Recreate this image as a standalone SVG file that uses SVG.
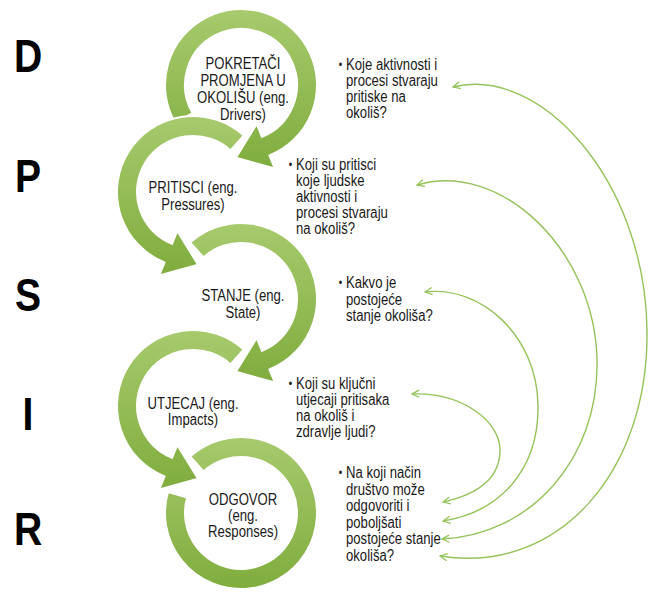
<svg xmlns="http://www.w3.org/2000/svg" width="651" height="592" viewBox="0 0 651 592">
<style>
.ring{fill:url(#g);stroke:#fff;stroke-width:2;stroke-linejoin:miter}
.lbl{font-family:"Liberation Sans",Arial,sans-serif;font-size:16px;fill:#1a1a1a}
.bul{font-size:12px}
.big{font-family:"Liberation Sans",Arial,sans-serif;font-size:46px;font-weight:bold;fill:#000}
.con{fill:none;stroke:#95c35a;stroke-width:1.4;marker-start:url(#ah);marker-end:url(#ah)}
</style>
<defs>
<linearGradient id="g" x1="0" y1="0" x2="0" y2="1">
<stop offset="0" stop-color="#a7ca6d"/>
<stop offset="1" stop-color="#80ad3e"/>
</linearGradient>
<marker id="ah" viewBox="0 0 10 10" refX="9" refY="5" markerWidth="9" markerHeight="9" markerUnits="userSpaceOnUse" orient="auto-start-reverse">
<path d="M1,1 L9,5 L1,9" fill="none" stroke="#95c35a" stroke-width="1.4"/>
</marker>
</defs>
<rect width="651" height="592" fill="#fff"/>

<g id="letters">
<text class="big" text-anchor="middle" transform="translate(28 0) scale(0.85 1)" x="0" y="72">D</text>
<text class="big" text-anchor="middle" transform="translate(28 0) scale(0.85 1)" x="0" y="192">P</text>
<text class="big" text-anchor="middle" transform="translate(28 0) scale(0.85 1)" x="0" y="311">S</text>
<text class="big" text-anchor="middle" transform="translate(28 0) scale(0.85 1)" x="0" y="430">I</text>
<text class="big" text-anchor="middle" transform="translate(28 0) scale(0.85 1)" x="0" y="545">R</text>
</g>

<g id="node-drivers">
<path class="ring" d="M175.18,123 A76,76 0 1 1 269.47,155.47 L274.71,168.45 L235.91,157.82 L256.73,123.94 L261.98,136.92 A56,56 0 1 0 192.5,113 Z"/>
<text class="lbl" text-anchor="middle" transform="translate(243 0) scale(0.82 1)"><tspan x="0" y="69">POKRETAČI</tspan><tspan x="0" y="86">PROMJENA U</tspan><tspan x="0" y="103">OKOLIŠU (eng.</tspan><tspan x="0" y="120">Drivers)</tspan></text>
</g>

<g id="node-pressures">
<path class="ring" d="M243.85,135.52 A76,76 0 1 0 164.53,262.47 L159.29,275.45 L198.09,264.82 L177.27,230.94 L172.02,243.92 A56,56 0 1 1 230.47,150.39 Z"/>
<text class="lbl" text-anchor="middle" transform="translate(193 0) scale(0.82 1)"><tspan x="0" y="193">PRITISCI (eng.</tspan><tspan x="0" y="210">Pressures)</tspan></text>
</g>

<g id="node-state">
<path class="ring" d="M190.15,242.52 A76,76 0 1 1 269.47,369.47 L274.71,382.45 L235.91,371.82 L256.73,337.94 L261.98,350.92 A56,56 0 1 0 203.53,257.39 Z"/>
<text class="lbl" text-anchor="middle" transform="translate(243 0) scale(0.82 1)"><tspan x="0" y="301">STANJE (eng.</tspan><tspan x="0" y="318">State)</tspan></text>
</g>

<g id="node-responses">
<path class="ring" d="M190.15,456.52 A76,76 0 1 1 167.94,492.05 L187.17,497.57 A56,56 0 1 0 203.53,471.39 Z"/>
<text class="lbl" text-anchor="middle" transform="translate(243 0) scale(0.82 1)"><tspan x="0" y="505">ODGOVOR</tspan><tspan x="0" y="521">(eng.</tspan><tspan x="0" y="537">Responses)</tspan></text>
</g>

<g id="node-impacts">
<path class="ring" d="M243.85,349.52 A76,76 0 1 0 164.53,476.47 L159.29,489.45 L198.09,478.82 L177.27,444.94 L172.02,457.92 A56,56 0 1 1 230.47,364.39 Z"/>
<text class="lbl" text-anchor="middle" transform="translate(193 0) scale(0.82 1)"><tspan x="0" y="409">UTJECAJ (eng.</tspan><tspan x="0" y="425">Impacts)</tspan></text>
</g>

<g id="q-drivers">
<text class="lbl" transform="translate(346 0) scale(0.82 1)"><tspan class="bul" x="-9" y="69">•</tspan><tspan x="0" y="70">Koje aktivnosti i</tspan><tspan x="0" y="86">procesi stvaraju</tspan><tspan x="0" y="102">pritiske na</tspan><tspan x="0" y="118">okoliš?</tspan></text>
</g>
<g id="q-pressures">
<text class="lbl" transform="translate(296 0) scale(0.82 1)"><tspan class="bul" x="-9" y="169">•</tspan><tspan x="0" y="170">Koji su pritisci</tspan><tspan x="0" y="186">koje ljudske</tspan><tspan x="0" y="202">aktivnosti i</tspan><tspan x="0" y="218">procesi stvaraju</tspan><tspan x="0" y="234">na okoliš?</tspan></text>
</g>
<g id="q-state">
<text class="lbl" transform="translate(346 0) scale(0.82 1)"><tspan class="bul" x="-9" y="287">•</tspan><tspan x="0" y="288">Kakvo je</tspan><tspan x="0" y="305">postojeće</tspan><tspan x="0" y="321">stanje okoliša?</tspan></text>
</g>
<g id="q-impacts">
<text class="lbl" transform="translate(296 0) scale(0.82 1)"><tspan class="bul" x="-9" y="388">•</tspan><tspan x="0" y="389">Koji su ključni</tspan><tspan x="0" y="405">utjecaji pritisaka</tspan><tspan x="0" y="421">na okoliš i</tspan><tspan x="0" y="437">zdravlje ljudi?</tspan></text>
</g>
<g id="q-responses">
<text class="lbl" transform="translate(346 0) scale(0.82 1)"><tspan class="bul" x="-9" y="477">•</tspan><tspan x="0" y="478">Na koji način</tspan><tspan x="0" y="495">društvo može</tspan><tspan x="0" y="511">odgovoriti i</tspan><tspan x="0" y="528">poboljšati</tspan><tspan x="0" y="544">postojeće stanje</tspan><tspan x="0" y="561">okoliša?</tspan></text>
</g>

<g id="connectors">
<path class="con" d="M453,87 C540,65 645,180 647,330 C649,470 560,575 440,556"/>
<path class="con" d="M417,185 C500,160 595,250 597,360 C599,460 530,535 442,539"/>
<path class="con" d="M425,292 C480,285 537,335 538,405 C539,470 500,512 443,521"/>
<path class="con" d="M412,394 C460,392 500,420 500,450 C500,480 475,495 443,502"/>
</g>
</svg>
